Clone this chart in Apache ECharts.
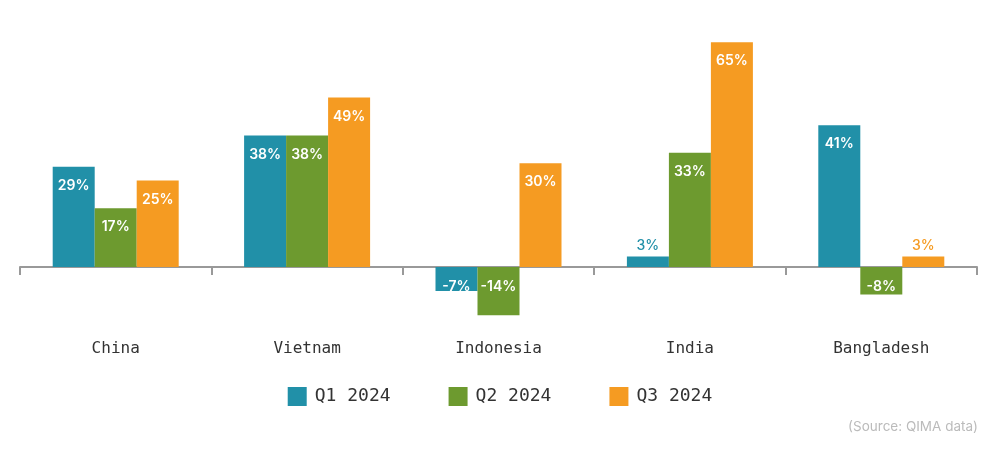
<!DOCTYPE html>
<html>
<head>
<meta charset="UTF-8">
<title>QIMA</title>
<script src="https://cdn.jsdelivr.net/npm/echarts@6/dist/echarts.min.js"></script>
<style>
  body{margin:0;background:#fff}
</style>
</head>
<body>
<div id="main" style="width:1000px;height:457px"></div>
<script type="text/javascript">
// data
var countries = ['China', 'Vietnam', 'Indonesia', 'India', 'Bangladesh'];
var q1 = [29, 38, -7, 3, 41];
var q2 = [17, 38, -14, 33, -8];
var q3 = [25, 49, 30, 65, 3];
var seriesNames = ['Q1 2024', 'Q2 2024', 'Q3 2024'];
var colors = ['#2190a8', '#6d9a2f', '#f59b22'];

var myChart = echarts.init(document.getElementById('main'));

// small bars get their label above, in the bar colour
function toItems(values, color) {
  return values.map(function (v) {
    var lbl;
    if (Math.abs(v) < 5) {
      lbl = { position: 'top', color: color, distance: 4, fontWeight: 500 };
    } else if (v < 0) {
      // for a negative bar insideTop sits next to the zero line
      lbl = { position: 'insideTop', color: '#fff', distance: 13 };
    } else {
      lbl = { position: 'insideTop', color: '#fff', distance: 12 };
    }
    return { value: v, label: lbl };
  });
}

var allValues = [q1, q2, q3];
var series = allValues.map(function (vals, i) {
  return {
    name: seriesNames[i],
    type: 'bar',
    barWidth: 42,
    barGap: '0%',
    itemStyle: { color: colors[i] },
    label: {
      show: true,
      fontFamily: 'Inter, sans-serif',
      fontSize: 14,
      fontWeight: 600,
      formatter: '{c}%'
    },
    data: toItems(vals, colors[i])
  };
});

var option = {
  animation: false,
  grid: { left: 20, right: 23, top: 25, bottom: 121 },
  legend: {
    data: seriesNames,
    left: 'center',
    top: 382,
    itemWidth: 19,
    itemHeight: 19,
    itemGap: 58,
    icon: 'rect',
    textStyle: {
      fontFamily: 'DejaVu Sans Mono, monospace',
      fontSize: 18,
      color: '#333',
      padding: [0, 0, 0, 3]
    }
  },
  graphic: [{
    type: 'text',
    right: 22,
    top: 420,
    style: { text: '(Source: QIMA data)', fill: '#bbb', font: '13.5px Inter, sans-serif' }
  }],
  xAxis: {
    type: 'category',
    data: countries,
    position: 'bottom',
    offset: -69,
    axisLine: { show: true, onZero: false, lineStyle: { color: '#999', width: 2 } },
    axisTick: { show: true, interval: 0, length: 8, lineStyle: { color: '#999', width: 2 } },
    axisLabel: {
      margin: 74,
      fontFamily: 'DejaVu Sans Mono, monospace',
      fontSize: 16,
      color: '#333'
    }
  },
  yAxis: {
    type: 'value',
    min: -20,
    max: 70,
    show: false,
    splitLine: { show: false }
  },
  series: series
};

myChart.setOption(option);
</script>
</body>
</html>
